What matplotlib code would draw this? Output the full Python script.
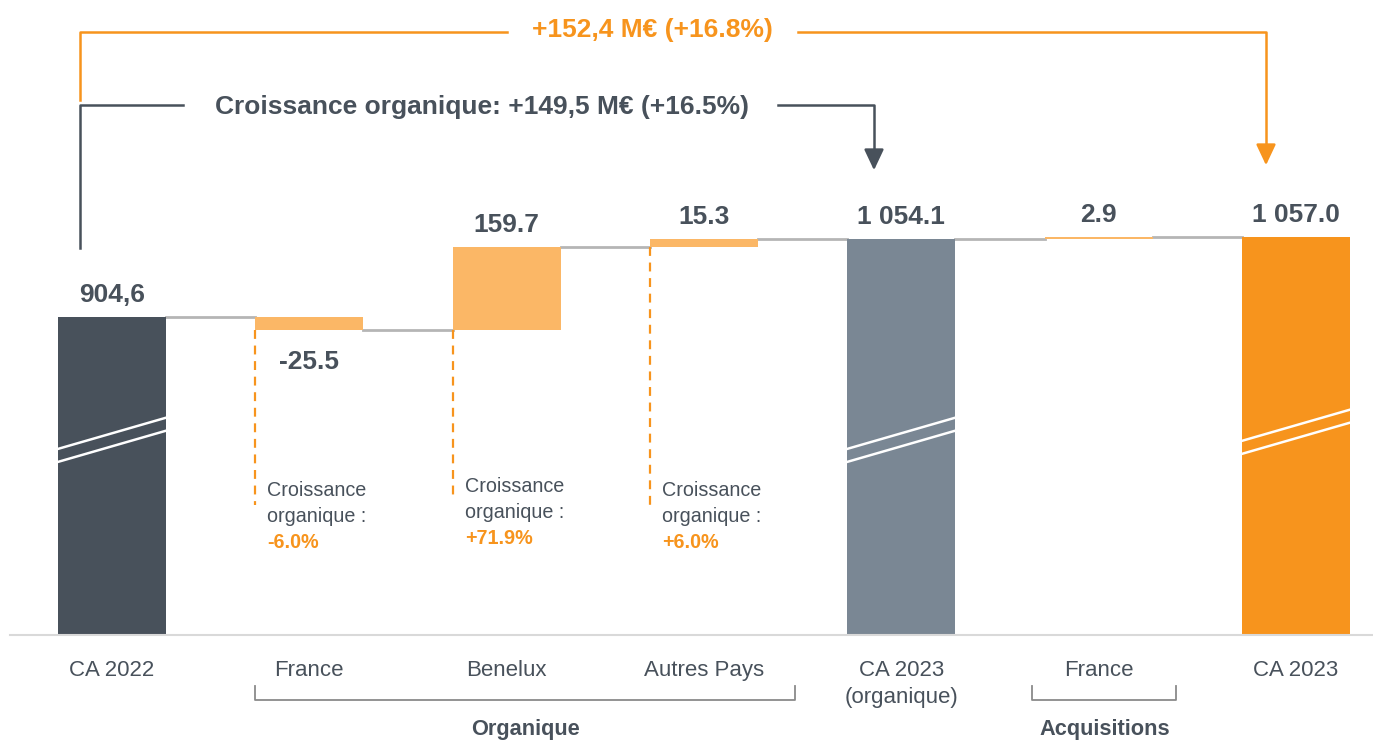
import matplotlib
matplotlib.use("Agg")
import matplotlib.pyplot as plt
from matplotlib.transforms import blended_transform_factory

# ---- data ----
categories = ["CA 2022", "France", "Benelux", "Autres Pays",
              "CA 2023\n(organique)", "France", "CA 2023"]
values = [904.6, -25.5, 159.7, 15.3, 1054.1, 2.9, 1057.0]
kinds = ["total", "delta", "delta", "delta", "total", "delta", "total"]
value_labels = ["904,6", "-25.5", "159.7", "15.3", "1 054.1", "2.9", "1 057.0"]
growth_idx = [1, 2, 3]
growth_labels = ["-6.0%", "+71.9%", "+6.0%"]
groups = [("Organique", 1, 3), ("Acquisitions", 5, 5)]
total_growth = "+152,4 M€ (+16.8%)"
organic_growth = "Croissance organique: +149,5 M€ (+16.5%)"

# ---- style ----
W, H = 1373, 743
DARK = "#48515b"
GREY = "#7a8794"
ORANGE = "#f7941d"
LIGHT_OR = "#fbb766"
CONN = "#b5b5b5"
plt.rcParams["font.family"] = ["Liberation Sans", "DejaVu Sans"]

BASE = 299.0          # truncated axis: bars start here
BAR_W = 0.547
YLIM = (93.2, 1508.4)
total_colors = [DARK, GREY, ORANGE]

fig = plt.figure(figsize=(W / 100, H / 100), dpi=100)
ax = fig.add_axes([0, 0, 1, 1])
ax.set_xlim(-0.568, 6.391)
ax.set_ylim(*YLIM)
ax.axis("off")

# y in figure pixels (from top), x in data
bx = blended_transform_factory(ax.transData, fig.transFigure)
ftr = fig.transFigure


def fy(p):
    return 1 - p / H


def fx(p):
    return p / W


def px_to_val(p):
    return YLIM[0] + (H - p) / H * (YLIM[1] - YLIM[0])


# ---- waterfall ----
running = 0.0
levels = []
ti = 0
for i, (v, k) in enumerate(zip(values, kinds)):
    if k == "total":
        bottom, top = BASE, v
        ax.bar(i, v - BASE, bottom=BASE, width=BAR_W, color=total_colors[ti], zorder=2)
        ti += 1
        running = v
    else:
        bottom, top = min(running, running + v), max(running, running + v)
        h = max(top - bottom, 3.0)
        ax.bar(i, h, bottom=top - h, width=BAR_W, color=LIGHT_OR, zorder=2)
        running = running + v
    levels.append((bottom, top, running))
    if v < 0:
        ax.annotate(value_labels[i], (i, bottom), xytext=(0, -14), textcoords="offset points",
                    ha="center", va="top", fontsize=19, fontweight="bold", color=DARK)
    else:
        ax.annotate(value_labels[i], (i, top), xytext=(0, 7), textcoords="offset points",
                    ha="center", va="bottom", fontsize=19, fontweight="bold", color=DARK)

# connectors
for i in range(len(values) - 1):
    lvl = levels[i][2]
    ax.plot([i + BAR_W / 2, i + 1 - BAR_W / 2], [lvl, lvl], color=CONN, lw=2, zorder=1)

# baseline
ax.plot([fx(10), 1], [fy(635), fy(635)], transform=ftr, color="#d9d9d9", lw=1.5, zorder=3)

# axis break marks on total bars
for i, k in enumerate(kinds):
    if k != "total":
        continue
    yc = 440 - (8 if i == 6 else 0)
    for off in (0, 13):
        ax.plot([i - BAR_W / 2 - 0.02, i + BAR_W / 2 + 0.03],
                [fy(yc + 10 + off), fy(yc - 24 + off)], transform=bx,
                color="white", lw=1.8, zorder=4, solid_capstyle="butt")

# growth notes with dashed guides
note_tops = [490, 486, 490]
dash_ends = [505, 495, 505]
for gi, idx in enumerate(growth_idx):
    x0 = idx - BAR_W / 2
    ax.plot([x0, x0], [levels[idx][0], px_to_val(dash_ends[gi])], color=ORANGE, lw=1.6,
            ls=(0, (4, 3)), zorder=1)
    xt = x0 + 12 / 197.3
    y0 = note_tops[gi]
    ax.text(xt, fy(y0), "Croissance", transform=bx, ha="left", va="center", fontsize=14.2, color=DARK)
    ax.text(xt, fy(y0 + 26), "organique :", transform=bx, ha="left", va="center", fontsize=14.2, color=DARK)
    ax.text(xt, fy(y0 + 52), growth_labels[gi], transform=bx, ha="left", va="center",
            fontsize=14.2, fontweight="bold", color=ORANGE)

# category labels
for i, c in enumerate(categories):
    ax.text(i, fy(660), c, transform=bx, ha="center", va="top", fontsize=16,
            color=DARK, linespacing=1.4)

# group brackets
for name, a, b in groups:
    if a == b:
        left, right = a - 0.335, a + 0.395
    else:
        left, right = a - BAR_W / 2, b + BAR_W / 2 + 0.19
    ax.plot([left, left, right, right], [fy(686), fy(700), fy(700), fy(686)], transform=bx,
            color="#8a8a8a", lw=1.3)
    ax.text((left + right) / 2, fy(730), name, transform=bx, ha="center", va="center",
            fontsize=15.7, fontweight="bold", color=DARK)

# top annotations
arrow = dict(arrowstyle="-|>,head_length=0.85,head_width=0.4", lw=1.8, mutation_scale=15)
ax.plot([fx(80), fx(80), fx(507)], [fy(100), fy(32), fy(32)], transform=ftr, color=ORANGE, lw=1.8)
ax.plot([fx(798), fx(1266), fx(1266)], [fy(32), fy(32), fy(152)], transform=ftr, color=ORANGE, lw=1.8)
ax.annotate("", xy=(fx(1266), fy(168)), xytext=(fx(1266), fy(146)), xycoords=ftr, textcoords=ftr,
            arrowprops=dict(arrow, color=ORANGE))
ax.text(fx(652), fy(30), total_growth, transform=ftr, ha="center", va="center",
        fontsize=19, fontweight="bold", color=ORANGE)

ax.plot([fx(80), fx(80), fx(183)], [fy(248), fy(105), fy(105)], transform=ftr, color=DARK, lw=1.8)
ax.plot([fx(778), fx(874), fx(874)], [fy(105), fy(105), fy(155)], transform=ftr, color=DARK, lw=1.8)
ax.annotate("", xy=(fx(874), fy(173)), xytext=(fx(874), fy(151)), xycoords=ftr, textcoords=ftr,
            arrowprops=dict(arrow, color=DARK))
ax.text(fx(482), fy(107), organic_growth, transform=ftr, ha="center", va="center",
        fontsize=19, fontweight="bold", color=DARK)

fig.savefig("out.png", dpi=100)
